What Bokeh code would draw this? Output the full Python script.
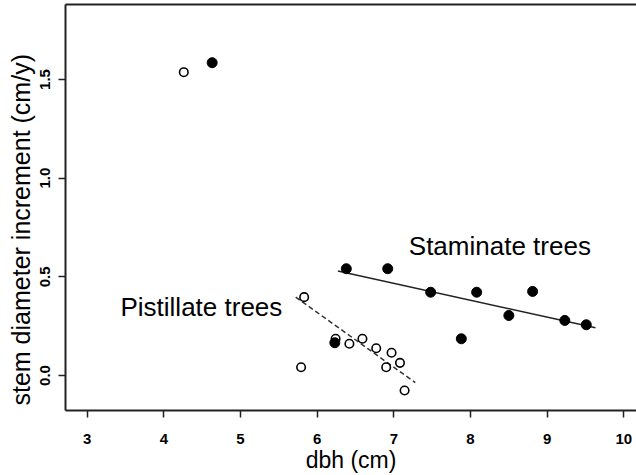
from bokeh.plotting import figure
from bokeh.models import Range1d, FixedTicker, LinearAxis
from bokeh.core.properties import value
from bokeh.embed import file_html
from bokeh.resources import INLINE

# ---- data ----
staminate_dbh = [4.63, 6.38, 6.92, 7.48, 8.08, 8.81, 8.50, 9.23, 9.51, 7.88, 6.23]
staminate_inc = [1.585, 0.541, 0.541, 0.422, 0.422, 0.426, 0.304, 0.279, 0.257, 0.186, 0.166]
pistillate_dbh = [4.26, 5.83, 5.79, 6.24, 6.42, 6.59, 6.77, 6.97, 7.08, 6.90, 7.14]
pistillate_inc = [1.537, 0.397, 0.042, 0.186, 0.161, 0.186, 0.138, 0.115, 0.064, 0.042, -0.076]

staminate_fit_dbh = [6.27, 9.63]
staminate_fit_inc = [0.529, 0.242]
pistillate_fit_dbh = [5.72, 7.28]
pistillate_fit_inc = [0.397, -0.036]

x_ticks = [3, 4, 5, 6, 7, 8, 9, 10]
x_tick_labels = ["3", "4", "5", "6", "7", "8", "9", "10"]
y_ticks = [0.0, 0.5, 1.0, 1.5]
y_tick_labels = ["0.0", "0.5", "1.0", "1.5"]

group_labels = ["Staminate trees", "Pistillate trees"]
group_label_dbh = [7.195, 3.434]
group_label_inc = [0.655, 0.346]

x_title = "dbh (cm)"
y_title = "stem diameter increment (cm/y)"

FONT = "Liberation Sans"
AX = "#222222"

p = figure(width=636, height=475,
           x_range=Range1d(2.717, 10.165), y_range=Range1d(-0.1774, 1.880),
           output_backend="svg", toolbar_location=None,
           min_border_left=65, min_border_right=0, min_border_top=4, min_border_bottom=65)
p.grid.visible = False
p.outline_line_color = None
p.background_fill_color = "white"
p.border_fill_color = "white"

for ax in (p.xaxis[0], p.yaxis[0]):
    ax.major_tick_out = 7
    ax.major_tick_in = 0
    ax.minor_tick_out = 0
    ax.minor_tick_in = 0
    ax.axis_line_width = 2
    ax.axis_line_color = AX
    ax.major_tick_line_width = 1.5
    ax.major_tick_line_color = AX
    ax.major_label_text_font = FONT
    ax.major_label_text_font_size = "15px"
    ax.major_label_text_font_style = "bold"
    ax.major_label_text_color = "black"

p.xaxis.ticker = FixedTicker(ticks=x_ticks)
p.xaxis.major_label_overrides = dict(zip(x_ticks, x_tick_labels))
p.xaxis.major_label_standoff = 16
p.xaxis.axis_label = x_title
p.xaxis.axis_label_standoff = 0
p.xaxis.axis_label_text_font = FONT
p.xaxis.axis_label_text_font_size = "23px"
p.xaxis.axis_label_text_font_style = "normal"
p.xaxis.axis_label_text_color = "black"

p.yaxis.ticker = FixedTicker(ticks=y_ticks)
p.yaxis.major_label_overrides = dict(zip(y_ticks, y_tick_labels))
p.yaxis.major_label_orientation = "vertical"
p.yaxis.major_label_standoff = 8

# y-axis title as a vertical title so it can sit off-centre like the reference
p.title.text = y_title
p.title_location = "left"
p.title.align = "left"
p.title.offset = 5
p.title.standoff = 6
p.title.text_font = FONT
p.title.text_font_size = "25px"
p.title.text_font_style = "normal"
p.title.text_color = "black"

top_axis = LinearAxis(ticker=FixedTicker(ticks=[]), major_tick_out=0, major_tick_in=0,
                      minor_tick_out=0, minor_tick_in=0, major_label_standoff=0,
                      major_label_text_font_size="0px",
                      axis_line_width=2, axis_line_color=AX)
p.add_layout(top_axis, "above")

p.line(pistillate_fit_dbh, pistillate_fit_inc, line_dash="5 3", line_width=1.5, line_color="#333333")
p.line(staminate_fit_dbh, staminate_fit_inc, line_width=1.5, line_color="#222222")

p.scatter(pistillate_dbh, pistillate_inc, marker="circle", size=8.5,
          fill_color=None, line_color="black", line_width=1.6)
p.scatter(staminate_dbh, staminate_inc, marker="circle", size=10,
          fill_color="black", line_color="black")

p.text(x=group_label_dbh, y=group_label_inc, text=group_labels,
       text_font=value(FONT), text_font_size=value("26px"),
       text_align="left", text_baseline="alphabetic", text_color="black")

open("out.html", "w").write(file_html(p, INLINE))
